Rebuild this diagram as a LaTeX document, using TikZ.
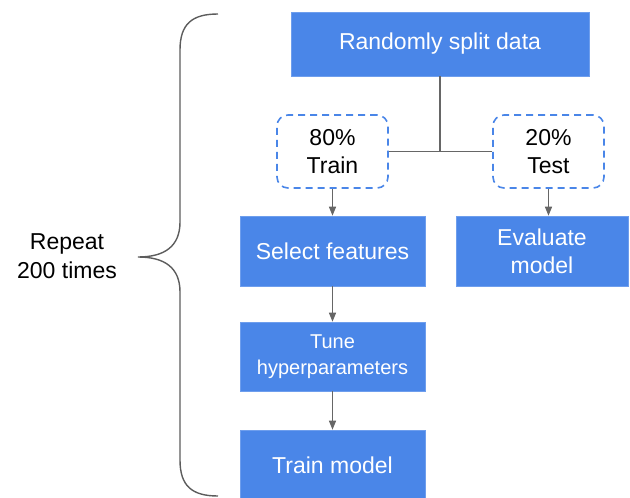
\documentclass[tikz,border=0pt]{standalone}
\usepackage{fontspec}
\setmainfont{Liberation Sans}
\usetikzlibrary{arrows.meta}
\definecolor{gblue}{HTML}{4A86E8}
\definecolor{gline}{HTML}{666666}
\begin{document}
\begin{tikzpicture}[x=1pt,y=-1pt,
  solid box/.style={fill=gblue,draw=gblue!80!white,line width=0.6pt,text=white,align=center,inner sep=0pt,
    font=\fontsize{23}{28}\selectfont},
  dash box/.style={draw=gblue,dash pattern=on 7pt off 5pt,line width=1.6pt,rounded corners=11pt,align=center,inner sep=0pt,
    font=\fontsize{23}{28}\selectfont},
  conn/.style={draw=gline,line width=1.3pt},
  arr/.style={conn,-{Triangle[width=7pt,length=9pt]}}]
\useasboundingbox (0,0) rectangle (630,498);
\node[solid box,minimum width=298pt,minimum height=64pt] (split) at (440,44) {Randomly split data};
\node[dash box,minimum width=111pt,minimum height=73pt] (train) at (332.5,151.5) {80\%\\Train};
\node[dash box,minimum width=111pt,minimum height=73pt] (test) at (548.5,151.5) {20\%\\Test};
\node[solid box,minimum width=185pt,minimum height=70pt] (select) at (332.5,251) {Select features};
\node[solid box,minimum width=172pt,minimum height=70pt] (eval) at (542,251) {Evaluate\\model};
\node[solid box,minimum width=185pt,minimum height=69pt,font=\fontsize{20}{26}\selectfont] (tune) at (332.5,356.5) {Tune\\hyperparameters};
\node[solid box,minimum width=185pt,minimum height=70pt] (trainm) at (332.5,465) {Train model};
\node[align=center,font=\fontsize{23}{29}\selectfont,inner sep=0pt] (rep) at (67,256) {Repeat\\200 times};
\coordinate (j) at (440,151.5);
\draw[conn] (split.south) -- (j);
\draw[conn] (train.east) -- (test.west);
\draw[arr] (train.south) -- (select.north);
\draw[arr] (test.south) -- (eval.north -| test.south);
\draw[arr] (select.south) -- (tune.north);
\draw[arr] (tune.south) -- (trainm.north);
\coordinate (bt) at (218,14);
\coordinate (bb) at (218,496);
\coordinate (bm) at (138,257);
\draw[draw=gline!90!black,line width=1.4pt]
  (bt) .. controls (192,14) and (180,24) .. (180,50)
  -- (180,222) .. controls (180,246) and (165,257) .. (bm)
  .. controls (165,257) and (180,268) .. (180,292)
  -- (180,460) .. controls (180,486) and (192,496) .. (bb);
\end{tikzpicture}
\end{document}
